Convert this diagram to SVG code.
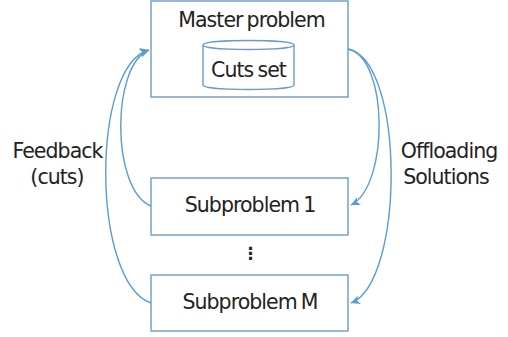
<svg xmlns="http://www.w3.org/2000/svg" width="508" height="337" viewBox="0 0 508 337">
<style>
.b{fill:#fff;stroke:#6c9bc9;stroke-width:1.4}
.l{fill:none;stroke:#6c9bc9;stroke-width:1.4}
.c{fill:none;stroke:#5b9bd5;stroke-width:1.4;marker-end:url(#a)}
text{font-family:"DejaVu Sans",sans-serif;font-size:20.5px;fill:#222;text-anchor:middle;letter-spacing:-0.95px;word-spacing:-1.5px}
</style>
<defs><marker id="a" markerWidth="10" markerHeight="10" refX="9" refY="5" orient="auto" markerUnits="userSpaceOnUse"><path d="M0 0.5L9 5L0 9.5L2.5 5Z" fill="#5b9bd5"/></marker></defs>
<g id="master"><rect class="b" x="151" y="1" width="197" height="96"/><text x="251.5" y="27">Master problem</text></g>
<g id="cuts"><path class="b" d="M203 45C203 39 294 39 294 45V85C294 91 203 91 203 85Z"/><path class="l" d="M203 45C203 51 294 51 294 45"/><text x="248.5" y="77">Cuts set</text></g>
<g id="sub1"><rect class="b" x="151" y="178" width="197" height="57"/><text x="250" y="212">Subproblem 1</text></g>
<g id="subm"><rect class="b" x="151" y="275" width="197" height="56"/><text x="250" y="309">Subproblem M</text></g>
<g id="connectors">
<path class="c" d="M348 49C389 58 389 186 351 205"/>
<path class="c" d="M348 49C405 60 405 282 351 303"/>
<path class="c" d="M151 206C111 190 111 65 149 50"/>
<path class="c" d="M151 303C91 282 91 65 149 50"/>
</g>
<text x="57.5" y="158">Feedback</text><text x="57" y="184">(cuts)</text>
<text x="449" y="158">Offloading</text><text x="446" y="184">Solutions</text>
<text x="250" y="259" style="font-size:17px;font-weight:bold">⋮</text>
</svg>
